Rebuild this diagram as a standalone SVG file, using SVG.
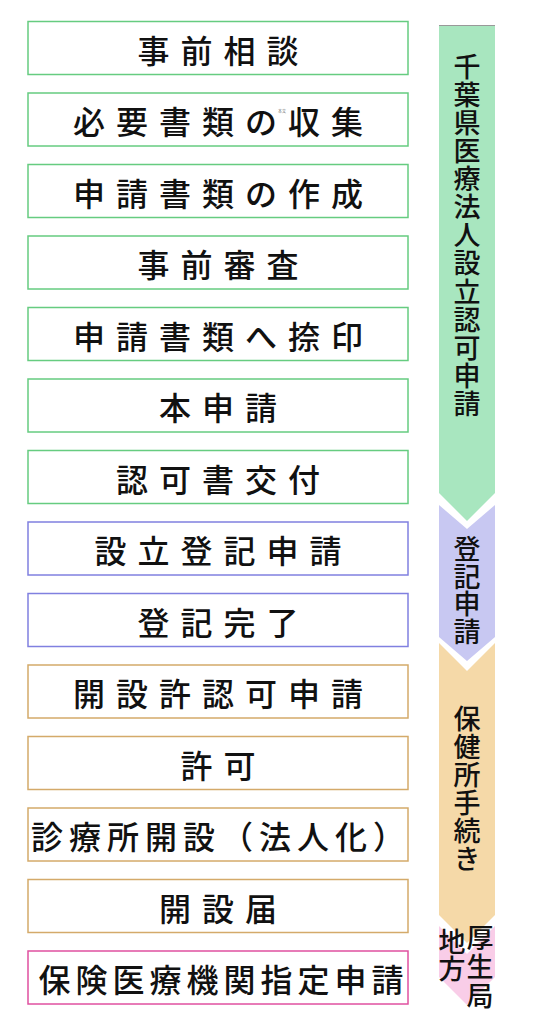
<svg xmlns="http://www.w3.org/2000/svg" width="533" height="1024" viewBox="0 0 533 1024">
<style>
.box{fill:#fff;stroke-width:1.5}
.g{stroke:#66cc80}
.p{stroke:#8080e0}
.o{stroke:#d4aa6a}
.k{stroke:#e050a0}
.t{font-family:"Noto Sans CJK JP","Noto Sans CJK SC",sans-serif;font-size:32px;font-weight:500;fill:#111;text-anchor:middle;letter-spacing:11px}
.v{font-family:"Noto Sans CJK JP","Noto Sans CJK SC",sans-serif;font-size:27px;font-weight:500;fill:#111;writing-mode:vertical-rl}
</style>
<rect width="533" height="1024" fill="#fff"/>
<g id="phases">
<g id="phase-chiba">
<polygon points="439,25 495,25 495,493 467,521 439,493" fill="#a8e6bf"/>
<line x1="439" y1="25.5" x2="495" y2="25.5" stroke="#999" stroke-width="1"/>
<text class="v" x="467" y="53" style="letter-spacing:1.1px">千葉県医療法人設立認可申請</text>
</g>
<g id="phase-toki">
<polygon points="439,505 467,529 495,505 495,637 467,661 439,637" fill="#c8c8f2"/>
<text class="v" x="467" y="535.5" style="letter-spacing:0.5px">登記申請</text>
</g>
<g id="phase-hokenjo">
<polygon points="439,643 467,671 495,643 495,915 467,943 439,915" fill="#f5d9a8"/>
<text class="v" x="467" y="705.5" style="letter-spacing:1px">保健所手続き</text>
</g>
<g id="phase-kouseikyoku">
<polygon points="439,926 467,954 495,926 495,977 467,1005 439,977" fill="#f9cde8"/>
<text class="v" x="480" y="924.5" style="letter-spacing:2px">厚生局</text>
<text class="v" x="452" y="928.5">地方</text>
</g>
</g>
<g id="connectors"></g>
<g id="n1"><rect class="box g" x="28" y="21.5" width="380" height="53"/><text class="t" x="223.5" y="62.5">事前相談</text></g>
<g id="n2"><rect class="box g" x="28" y="93" width="380" height="53"/><text class="t" x="223.5" y="134">必要書類の収集</text><text x="278" y="113" font-family="Noto Sans CJK JP,sans-serif" font-size="4" fill="#666">本文</text></g>
<g id="n3"><rect class="box g" x="28" y="164.5" width="380" height="53"/><text class="t" x="223.5" y="205.5">申請書類の作成</text></g>
<g id="n4"><rect class="box g" x="28" y="236" width="380" height="53"/><text class="t" x="223.5" y="277">事前審査</text></g>
<g id="n5"><rect class="box g" x="28" y="307.5" width="380" height="53"/><text class="t" x="223.5" y="348.5">申請書類へ捺印</text></g>
<g id="n6"><rect class="box g" x="28" y="379" width="380" height="53"/><text class="t" x="223.5" y="420">本申請</text></g>
<g id="n7"><rect class="box g" x="28" y="450.5" width="380" height="53"/><text class="t" x="223.5" y="491.5">認可書交付</text></g>
<g id="n8"><rect class="box p" x="28" y="522" width="380" height="53"/><text class="t" x="223.5" y="563">設立登記申請</text></g>
<g id="n9"><rect class="box p" x="28" y="593.5" width="380" height="53"/><text class="t" x="223.5" y="634.5">登記完了</text></g>
<g id="n10"><rect class="box o" x="28" y="665" width="380" height="53"/><text class="t" x="223.5" y="706">開設許認可申請</text></g>
<g id="n11"><rect class="box o" x="28" y="736.5" width="380" height="53"/><text class="t" x="223.5" y="777.5">許可</text></g>
<g id="n12"><rect class="box o" x="28" y="808" width="380" height="53"/><text class="t" x="221" y="849" style="letter-spacing:6px">診療所開設（法人化）</text></g>
<g id="n13"><rect class="box o" x="28" y="879.5" width="380" height="53"/><text class="t" x="223.5" y="920.5">開設届</text></g>
<g id="n14"><rect class="box k" x="28" y="951" width="380" height="53"/><text class="t" x="223.5" y="992" style="letter-spacing:5px">保険医療機関指定申請</text></g>
</svg>
